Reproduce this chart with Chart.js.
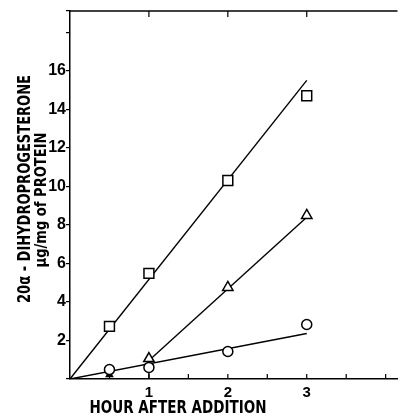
<!DOCTYPE html>
<html>
<head>
<meta charset="utf-8">
<script src="https://cdn.jsdelivr.net/npm/chart.js@4"></script>
<style>
html,body{margin:0;padding:0;background:#fff;}
#wrap{width:406px;height:416px;position:relative;}
</style>
</head>
<body>
<div id="wrap"><canvas id="c" width="406" height="416"></canvas></div>
<script>
// ---- data ----
const squareHours = [0.5, 1, 2, 3];
const squareValues = [2.73, 5.48, 10.3, 14.7];
const triangleHours = [1, 2, 3];
const triangleValues = [1.06, 4.75, 8.49];
const circleHours = [0.5, 1, 2, 3];
const circleValues = [0.49, 0.6, 1.43, 2.83];
const filledHours = [0.5];
const filledValues = [0.22];
const errorBarHours = [1, 1];
const errorBarValues = [0, 0.6];
const squareFitHours = [0, 3];
const squareFitValues = [0, 15.5];
const triangleFitHours = [1, 3];
const triangleFitValues = [0.96, 8.39];
const circleFitHours = [0, 3];
const circleFitValues = [0, 2.36];
const xTickLabels = [1, 2, 3];
const yTickLabels = [2, 4, 6, 8, 10, 12, 14, 16];
const xTitle = 'HOUR AFTER ADDITION';
const yTitleLines = ['20\u03b1 - DIHYDROPROGESTERONE', '\u03bcg/mg of PROTEIN'];

const pts = (xs, ys) => xs.map((x, i) => ({x, y: ys[i]}));
const FONT = '"Liberation Sans", Arial, sans-serif';
const NARROW = '"Liberation Sans Narrow", "DejaVu Sans Condensed", "Liberation Sans", sans-serif';

const lineDs = (xs, ys) => ({data: pts(xs, ys), showLine: true, borderColor: '#000', borderWidth: 1.4, pointRadius: 0, fill: false, order: 2});
const markDs = (xs, ys, style, r, fill) => ({data: pts(xs, ys), showLine: false, pointStyle: style, pointRadius: r, pointHoverRadius: r, pointBorderColor: '#000', pointBackgroundColor: fill, pointBorderWidth: 1.5, order: 1});

function fitText(ctx, text, x, y, rot, font, len) {
  ctx.save();
  ctx.font = font;
  const w = ctx.measureText(text).width;
  ctx.translate(x, y);
  ctx.rotate(rot);
  ctx.scale(len / w, 1);
  ctx.textAlign = 'center';
  ctx.textBaseline = 'alphabetic';
  ctx.fillText(text, 0, 0);
  ctx.restore();
}

const framePlugin = {
  id: 'frame',
  afterDraw(chart) {
    const ctx = chart.ctx, a = chart.chartArea;
    const xs = chart.scales.x;
    ctx.save();
    ctx.strokeStyle = '#000';
    ctx.lineWidth = 1.5;
    ctx.beginPath();
    ctx.moveTo(a.left, a.top); ctx.lineTo(a.right, a.top);
    ctx.stroke();
    ctx.lineWidth = 1.2;
    xTickLabels.forEach(v => {
      const px = xs.getPixelForValue(v);
      ctx.beginPath(); ctx.moveTo(px, a.top); ctx.lineTo(px, a.top + 6); ctx.stroke();
    });
    for (let v = 0.5; v < xs.max; v += 0.5) {
      const px = xs.getPixelForValue(v);
      ctx.beginPath(); ctx.moveTo(px, a.bottom); ctx.lineTo(px, a.bottom - 5); ctx.stroke();
    }
    ctx.fillStyle = '#000';
    fitText(ctx, xTitle, 178, 413, 0, 'bold 18px ' + NARROW, 177);
    fitText(ctx, yTitleLines[0], 30, 189, -Math.PI / 2, 'bold 18px ' + NARROW, 228);
    fitText(ctx, yTitleLines[1], 46, 200, -Math.PI / 2, 'bold 15px ' + NARROW, 135);
    ctx.restore();
  }
};

new Chart(document.getElementById('c'), {
  type: 'scatter',
  data: {
    datasets: [
      lineDs(squareFitHours, squareFitValues),
      lineDs(triangleFitHours, triangleFitValues),
      lineDs(circleFitHours, circleFitValues),
      lineDs(errorBarHours, errorBarValues),
      markDs(squareHours, squareValues, 'rect', 7, '#fff'),
      markDs(triangleHours, triangleValues, 'triangle', 6, '#fff'),
      markDs(circleHours, circleValues, 'circle', 5, '#fff'),
      markDs(filledHours, filledValues, 'triangle', 3.5, '#000')
    ]
  },
  options: {
    responsive: false,
    animation: false,
    events: [],
    layout: {padding: {top: 11, right: 0, left: 0, bottom: 0}},
    plugins: {legend: {display: false}, tooltip: {enabled: false}},
    scales: {
      x: {
        type: 'linear', min: 0, max: 4.15,
        afterFit(s) { s.height = 37; },
        border: {display: true, color: '#000', width: 1.5},
        grid: {display: false, drawTicks: false},
        ticks: {
          stepSize: 1, padding: 5, color: '#000',
          font: {family: FONT, size: 15, weight: 'bold'},
          callback: v => xTickLabels.includes(v) ? String(v) : ''
        }
      },
      y: {
        type: 'linear', min: 0, max: 19.1,
        afterFit(s) { s.width = 70; },
        border: {display: true, color: '#000', width: 1.5},
        grid: {display: true, drawOnChartArea: false, drawTicks: true, tickLength: 4, color: '#000', lineWidth: 1.2},
        ticks: {
          stepSize: 2, padding: 0, color: '#000',
          font: {family: FONT, size: 16, weight: 'bold'},
          callback: v => yTickLabels.includes(v) ? String(v) : ''
        }
      }
    }
  },
  plugins: [framePlugin]
});
</script>
</body>
</html>
